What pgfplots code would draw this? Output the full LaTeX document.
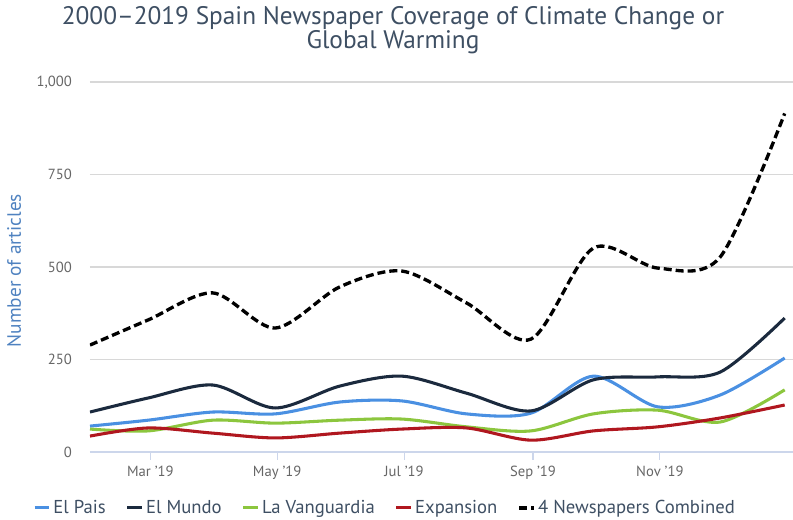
\documentclass[border=0pt]{standalone}
\usepackage{fontspec}
\setmainfont{PT Sans}
\usepackage{pgfplots}
\usepackage{pgfplotstable}
\pgfplotsset{compat=1.18}

\definecolor{pais}{HTML}{4A90E2}
\definecolor{mundo}{HTML}{1B2A3E}
\definecolor{vang}{HTML}{8CC63E}
\definecolor{expa}{HTML}{B0171F}
\definecolor{titlec}{HTML}{3E4F63}
\definecolor{ylab}{HTML}{4F82C0}
\definecolor{tickc}{HTML}{666666}
\definecolor{gridc}{HTML}{D8D8D8}
\definecolor{axisc}{HTML}{CCD6EB}

% day of year (month ends, 2019)
\pgfplotstableread{
day pais mundo vang exp comb
30  70  108 62  43  289
58  86  146 57  65  357
89  108 181 86  51  430
119 103 119 78  38  335
150 135 178 86  51  446
180 138 205 89  62  489
211 103 159 68  65  403
242 105 111 57  32  305
272 205 195 103 57  551
303 122 203 113 68  497
333 154 216 81  92  527
364 254 362 168 127 915
}\data

\begin{document}
\begin{tikzpicture}
\path[use as bounding box] (-67.5pt,-51pt) rectangle (527.25pt,339pt);
\begin{axis}[
    scale only axis,
    width=527.25pt, height=277.5pt,
    xmin=30, xmax=368,
    ymin=0, ymax=1000,
    xtick={59,120,181,243,304},
    xticklabels={Mar '19,May '19,Jul '19,Sep '19,Nov '19},
    ytick={0,250,500,750,1000},
    /pgf/number format/assume math mode=true,
    /pgf/number format/1000 sep={,},
    ymajorgrids,
    grid style={gridc, line width=0.8pt},
    axis x line*=bottom,
    axis y line*=left,
    y axis line style={draw=none},
    x axis line style={axisc, line width=0.8pt, -},
    xtick style={axisc, line width=0.8pt},
    tick align=outside,
    major tick length=6pt,
    ytick style={draw=none},
    ticklabel style={font=\fontsize{11}{13}\selectfont, text=tickc},
    yticklabel style={xshift=-4pt},
    xticklabel style={yshift=-1pt},
    ylabel={Number of articles},
    ylabel style={at={(axis description cs:-0.108,0.49)}, anchor=center,
        font=\fontsize{14.5}{16}\selectfont, text=ylab},
    title={2000–2019 Spain Newspaper Coverage of Climate Change or\\Global Warming},
    title style={at={(axis description cs:0.431,1)}, anchor=south, yshift=15pt,
        align=center, inner sep=0pt, font=\fontsize{19}{18}\selectfont, text=titlec},
    legend columns=5,
    legend style={at={(axis description cs:0.42,-0.151)}, anchor=center,
        draw=none, fill=none, font=\fontsize{14}{16}\selectfont, text=titlec,
        /tikz/every even column/.append style={column sep=13pt}},
    legend image code/.code={\draw[#1] (0pt,0pt) -- (11pt,0pt);},
    every axis plot/.append style={smooth, tension=0.5, no markers, line width=2.3pt},
]
\addplot[pais] table[x=day, y=pais] {\data};
\addlegendentry{El Pais}
\addplot[mundo] table[x=day, y=mundo] {\data};
\addlegendentry{El Mundo}
\addplot[vang] table[x=day, y=vang] {\data};
\addlegendentry{La Vanguardia}
\addplot[expa] table[x=day, y=exp] {\data};
\addlegendentry{Expansion}
\addplot[black, line width=2.5pt, dash pattern=on 6pt off 3pt] table[x=day, y=comb] {\data};
\addlegendentry{4 Newspapers Combined}
\end{axis}
\end{tikzpicture}
\end{document}
